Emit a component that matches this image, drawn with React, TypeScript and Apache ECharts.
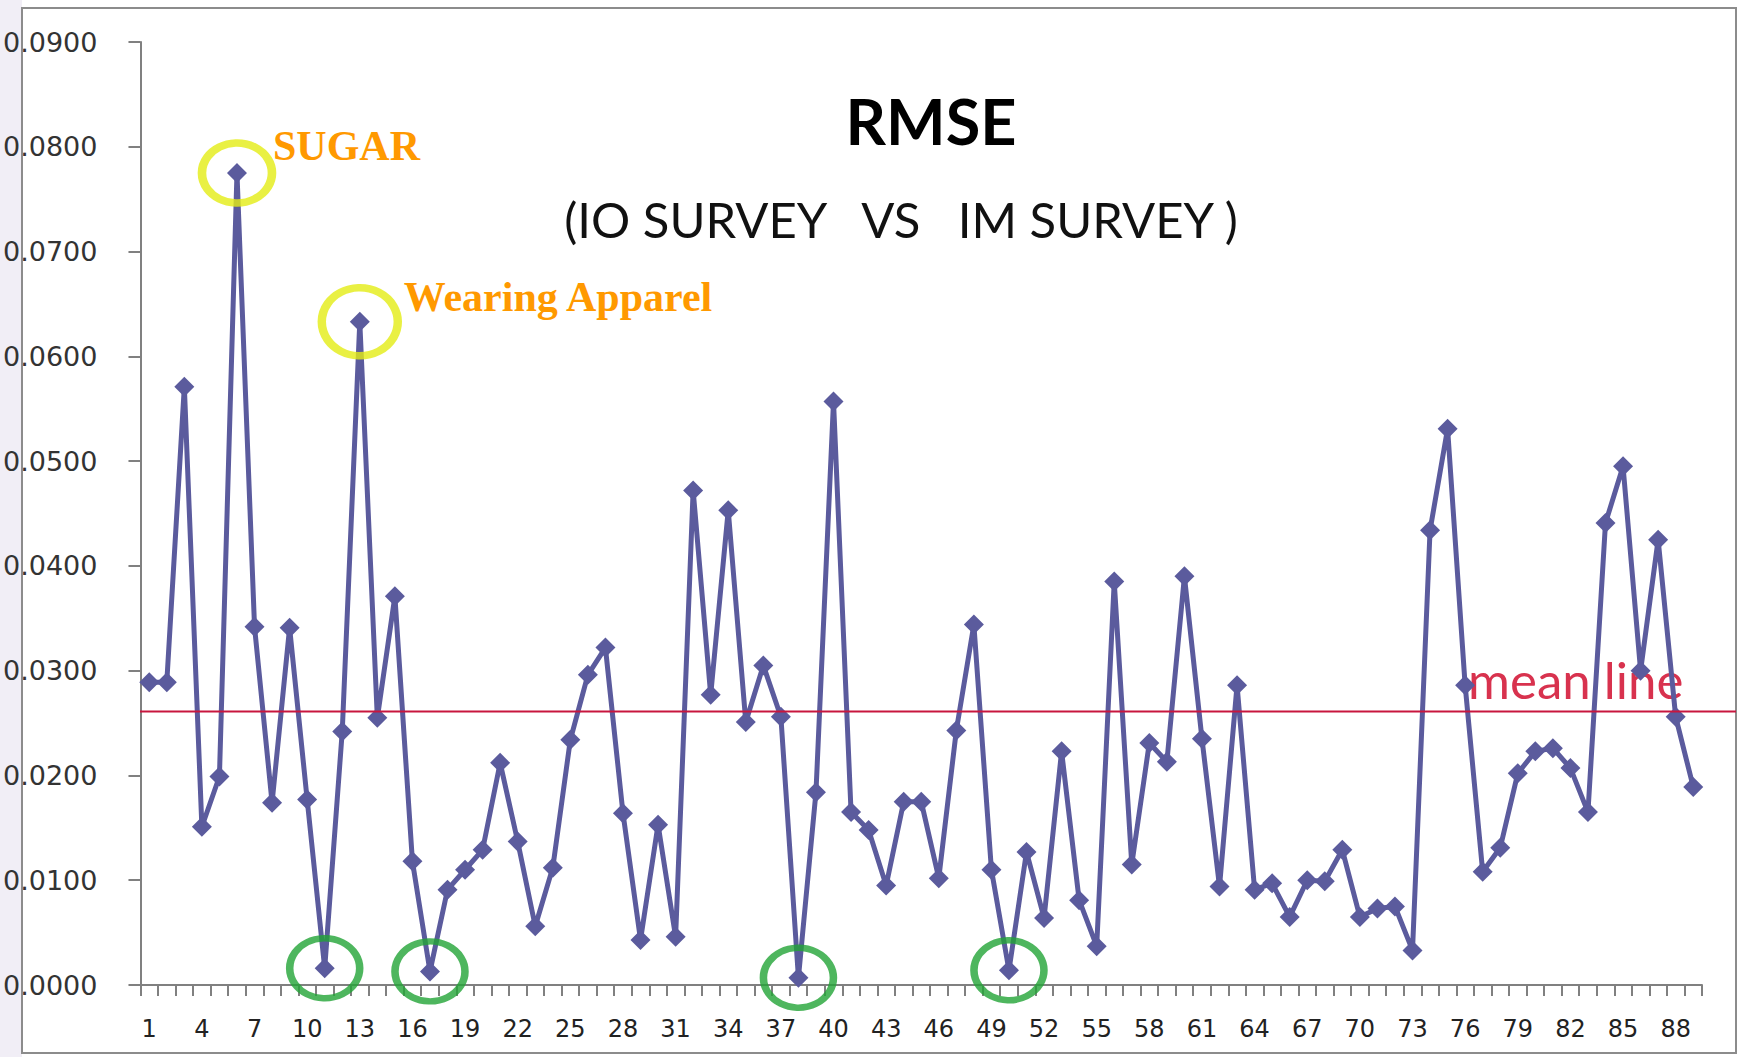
import React, { useEffect, useRef } from "react";
import * as echarts from "echarts";

const CATEGORIES: string[] = Array.from({ length: 89 }, (_, i) => String(i + 1));

const RMSE_VALUES: number[] = [
  0.0289, 0.0289, 0.0571, 0.0151, 0.0199, 0.0775, 0.0342, 0.0174, 0.0341, 0.0177,
  0.0016, 0.0242, 0.0633, 0.0255, 0.0371, 0.0118, 0.0013, 0.0091, 0.0110, 0.0129,
  0.0212, 0.0137, 0.0056, 0.0112, 0.0234, 0.0296, 0.0322, 0.0164, 0.0043, 0.0153,
  0.0046, 0.0472, 0.0277, 0.0453, 0.0251, 0.0305, 0.0256, 0.0007, 0.0184, 0.0557,
  0.0165, 0.0148, 0.0095, 0.0175, 0.0175, 0.0102, 0.0243, 0.0344, 0.0110, 0.0014,
  0.0127, 0.0064, 0.0223, 0.0081, 0.0037, 0.0385, 0.0115, 0.0231, 0.0213, 0.0390,
  0.0235, 0.0094, 0.0286, 0.0091, 0.0097, 0.0065, 0.0100, 0.0099, 0.0129, 0.0065,
  0.0073, 0.0075, 0.0033, 0.0434, 0.0531, 0.0286, 0.0108, 0.0131, 0.0202, 0.0223,
  0.0226, 0.0207, 0.0165, 0.0441, 0.0495, 0.0300, 0.0425, 0.0256, 0.0189,
];

const MEAN_VALUE = 0.0261;

// 1-based category numbers of highlighted points
const HIGH_POINTS = [6, 13];
const HIGH_LABELS = ["SUGAR", "Wearing Apparel"];
const LOW_POINTS = [11, 17, 38, 50];

const TITLE = "RMSE";
const SUBTITLE = "(IO SURVEY   VS   IM SURVEY )";
const MEAN_LABEL = "mean line";

const LINE_COLOR = "#5B5B9D";
const AXIS_COLOR = "#808080";

export default function App() {
  const ref = useRef<HTMLDivElement>(null);

  useEffect(() => {
    if (!ref.current) return;
    const chart = echarts.init(ref.current, null, { renderer: "svg" });

    chart.setOption({
      animation: false,
      backgroundColor: "#ffffff",
      grid: { left: 140, right: 42, top: 42, bottom: 72, containLabel: false },
      xAxis: {
        type: "category",
        data: CATEGORIES,
        boundaryGap: true,
        axisLine: { show: true, lineStyle: { color: AXIS_COLOR, width: 2 } },
        axisTick: { show: true, interval: 0, length: 11, lineStyle: { color: AXIS_COLOR, width: 2 } },
        axisLabel: {
          interval: 2,
          fontFamily: "DejaVu Sans",
          fontSize: 24,
          color: "#222",
          margin: 32,
        },
        splitLine: { show: false },
      },
      yAxis: {
        type: "value",
        min: 0,
        max: 0.09,
        interval: 0.01,
        axisLine: { show: true, lineStyle: { color: AXIS_COLOR, width: 2 } },
        axisTick: { show: true, length: 12, lineStyle: { color: AXIS_COLOR, width: 2 } },
        axisLabel: {
          formatter: (v: number) => v.toFixed(4),
          fontFamily: "DejaVu Sans",
          fontSize: 27,
          color: "#333",
          margin: 43,
        },
        splitLine: { show: false },
      },
      series: [
        {
          type: "line",
          data: RMSE_VALUES,
          symbol: "diamond",
          symbolSize: 20,
          showAllSymbol: true,
          lineStyle: { color: LINE_COLOR, width: 5 },
          itemStyle: { color: LINE_COLOR },
          z: 3,
        },
        {
          type: "scatter",
          data: HIGH_POINTS.map((p, i) => ({
            value: [p - 1, RMSE_VALUES[p - 1]],
            symbolSize: i === 0 ? [70, 60] : [76, 68],
          })),
          symbol: "circle",
          itemStyle: { color: "rgba(0,0,0,0)", borderColor: "#E4EC14", borderWidth: 8 },
          z: 5,
          silent: true,
        },
        {
          type: "scatter",
          data: LOW_POINTS.map((p) => [p - 1, RMSE_VALUES[p - 1]]),
          symbol: "circle",
          symbolSize: [70, 60],
          itemStyle: { color: "rgba(0,0,0,0)", borderColor: "#22A436", borderWidth: 7 },
          z: 5,
          silent: true,
        },
      ],
    });

    const meanY = chart.convertToPixel({ yAxisIndex: 0 }, MEAN_VALUE) as number;
    const highPx = HIGH_POINTS.map(
      (p) => chart.convertToPixel({ seriesIndex: 0 }, [p - 1, RMSE_VALUES[p - 1]]) as number[]
    );
    const labelOffsets = [
      [36, -27],
      [44, -25],
    ];

    chart.setOption({
      graphic: [
        {
          type: "rect",
          shape: { x: 0, y: 0, width: 22, height: 1057 },
          style: { fill: "#F1EEF6" },
          z: -1,
          silent: true,
        },
        {
          type: "rect",
          shape: { x: 22, y: 8, width: 1714, height: 1045 },
          style: { fill: "none", stroke: "#8C8C8C", lineWidth: 2 },
          z: 1,
          silent: true,
        },
        {
          type: "text",
          x: 931,
          y: 120,
          style: {
            text: TITLE,
            font: "bold 63px Lato",
            fill: "#000",
            textAlign: "center",
            textVerticalAlign: "middle",
          },
          z: 6,
        },
        {
          type: "text",
          x: 901,
          y: 219,
          style: {
            text: SUBTITLE,
            font: "49px Lato",
            fill: "#111",
            textAlign: "center",
            textVerticalAlign: "middle",
          },
          z: 6,
        },
        {
          type: "text",
          x: 1468,
          y: 679,
          style: {
            text: MEAN_LABEL,
            font: "51px Lato",
            fill: "#D8324E",
            textAlign: "left",
            textVerticalAlign: "middle",
          },
          z: 0,
        },
        {
          type: "line",
          shape: { x1: 140, y1: meanY, x2: 1736, y2: meanY },
          style: { stroke: "#C8163E", lineWidth: 2 },
          z: 10,
          silent: true,
        },
        ...highPx.map((px, i) => ({
          type: "text",
          x: px[0] + labelOffsets[i][0],
          y: px[1] + labelOffsets[i][1],
          style: {
            text: HIGH_LABELS[i],
            font: "bold 42px 'Liberation Serif'",
            fill: "#FF9900",
            textAlign: "left",
            textVerticalAlign: "middle",
          },
          z: 6,
        })),
      ],
    });

    return () => chart.dispose();
  }, []);

  return (
    <div
      ref={ref}
      style={{ position: "fixed", left: 0, top: 0, width: 1744, height: 1057 }}
    />
  );
}
